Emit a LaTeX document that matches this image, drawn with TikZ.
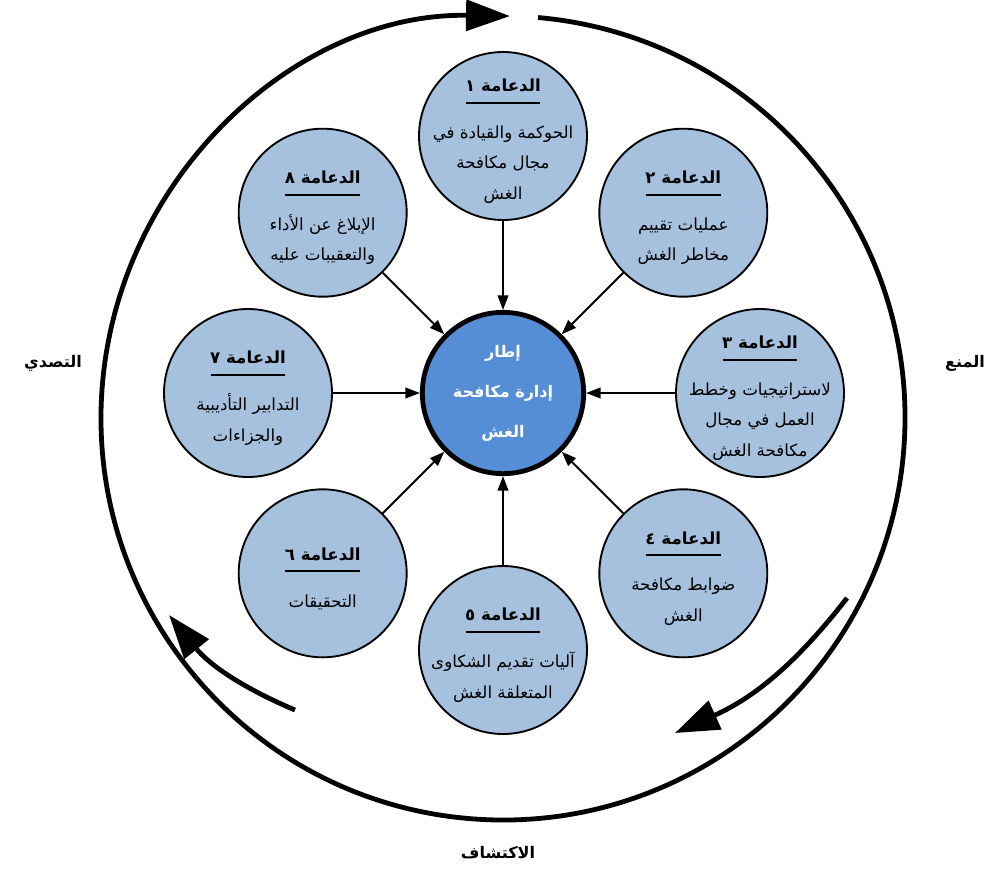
\documentclass[tikz,border=0pt]{standalone}
\usepackage{fontspec}
\newfontfamily\arabicfont[Script=Arabic]{DejaVu Sans}
\TeXXeTstate=1
\usetikzlibrary{arrows.meta}
\definecolor{pillarblue}{RGB}{166,193,222}
\definecolor{hubblue}{RGB}{85,142,213}
\newcommand\rl[1]{\beginR #1\endR}
\newcommand\pillarhead[1]{{\bfseries\rl{الدعامة #1}}\\[-14pt]\rule{56pt}{1.5pt}\\[3pt]}
\tikzset{pillar/.style={circle, draw, line width=1.4pt, fill=pillarblue,
         minimum size=126pt, inner sep=0pt},
         pillartext/.style={align=center, inner sep=0pt, yshift=-4pt,
         font=\arabicfont\fontsize{12.5}{23}\selectfont},
         feed/.style={line width=1.5pt, -{Triangle[length=11pt, width=8pt]}},
         cyclearrow/.style={line width=3.6pt, -{Triangle[length=33pt, width=23pt]}},
         phase/.style={font=\arabicfont\bfseries\fontsize{12}{14}\selectfont}}

\begin{document}
\begin{tikzpicture}[x=0.75pt, y=0.75pt]
  \useasboundingbox (-503,-476) rectangle (484,393);

  % outer cycle
  \draw[cyclearrow] (0,-25) ++(85:402) arc[start angle=85, end angle=-271, radius=402];
  \coordinate (rs) at (344,-205);
  \coordinate (re) at (172,-340);
  \coordinate (ls) at (-208,-317);
  \coordinate (le) at (-334,-222);
  \draw[cyclearrow] (rs) to[bend left=14] (re);
  \draw[cyclearrow] (ls) to[bend left=14] (le);

  % hub
  \node[circle, draw, line width=3.6pt, fill=hubblue, minimum size=121pt, inner sep=0pt,
        text=white, align=center, font=\arabicfont\bfseries\fontsize{12}{30}\selectfont]
        (hub) at (0,0) {\rl{إطار}\\ \rl{إدارة مكافحة}\\ \rl{الغش}};

  % pillars
  \node[pillar] (p1) at (90:257) {};
  \node[pillar] (p2) at (45:255) {};
  \node[pillar] (p3) at (0:257) {};
  \node[pillar] (p4) at (-45:255) {};
  \node[pillar] (p5) at (-90:257) {};
  \node[pillar] (p6) at (-135:255) {};
  \node[pillar] (p7) at (180:255) {};
  \node[pillar] (p8) at (135:255) {};

  \node[pillartext] (t1) at (p1) {\pillarhead{١}\rl{الحوكمة والقيادة في}\\ \rl{مجال مكافحة}\\ \rl{الغش}};
  \node[pillartext] (t2) at (p2) {\pillarhead{٢}\rl{عمليات تقييم}\\ \rl{مخاطر الغش}};
  \node[pillartext] (t3) at (p3) {\pillarhead{٣}\rl{لاستراتيجيات وخطط}\\ \rl{العمل في مجال}\\ \rl{مكافحة الغش}};
  \node[pillartext] (t4) at (p4) {\pillarhead{٤}\rl{ضوابط مكافحة}\\ \rl{الغش}};
  \node[pillartext] (t5) at (p5) {\pillarhead{٥}\rl{آليات تقديم الشكاوى}\\ \rl{المتعلقة الغش}};
  \node[pillartext] (t6) at (p6) {\pillarhead{٦}\rl{التحقيقات}};
  \node[pillartext] (t7) at (p7) {\pillarhead{٧}\rl{التدابير التأديبية}\\ \rl{والجزاءات}};
  \node[pillartext] (t8) at (p8) {\pillarhead{٨}\rl{الإبلاغ عن الأداء}\\ \rl{والتعقيبات عليه}};

  \foreach \i in {1,...,8}
    \draw[feed] (p\i) -- (hub);

  % phases
  \node[phase] (prevent) at (462,30) {\rl{المنع}};
  \node[phase] (respond) at (-450,30) {\rl{التصدي}};
  \node[phase] (detect) at (-5,-460) {\rl{الاكتشاف}};
\end{tikzpicture}
\end{document}
